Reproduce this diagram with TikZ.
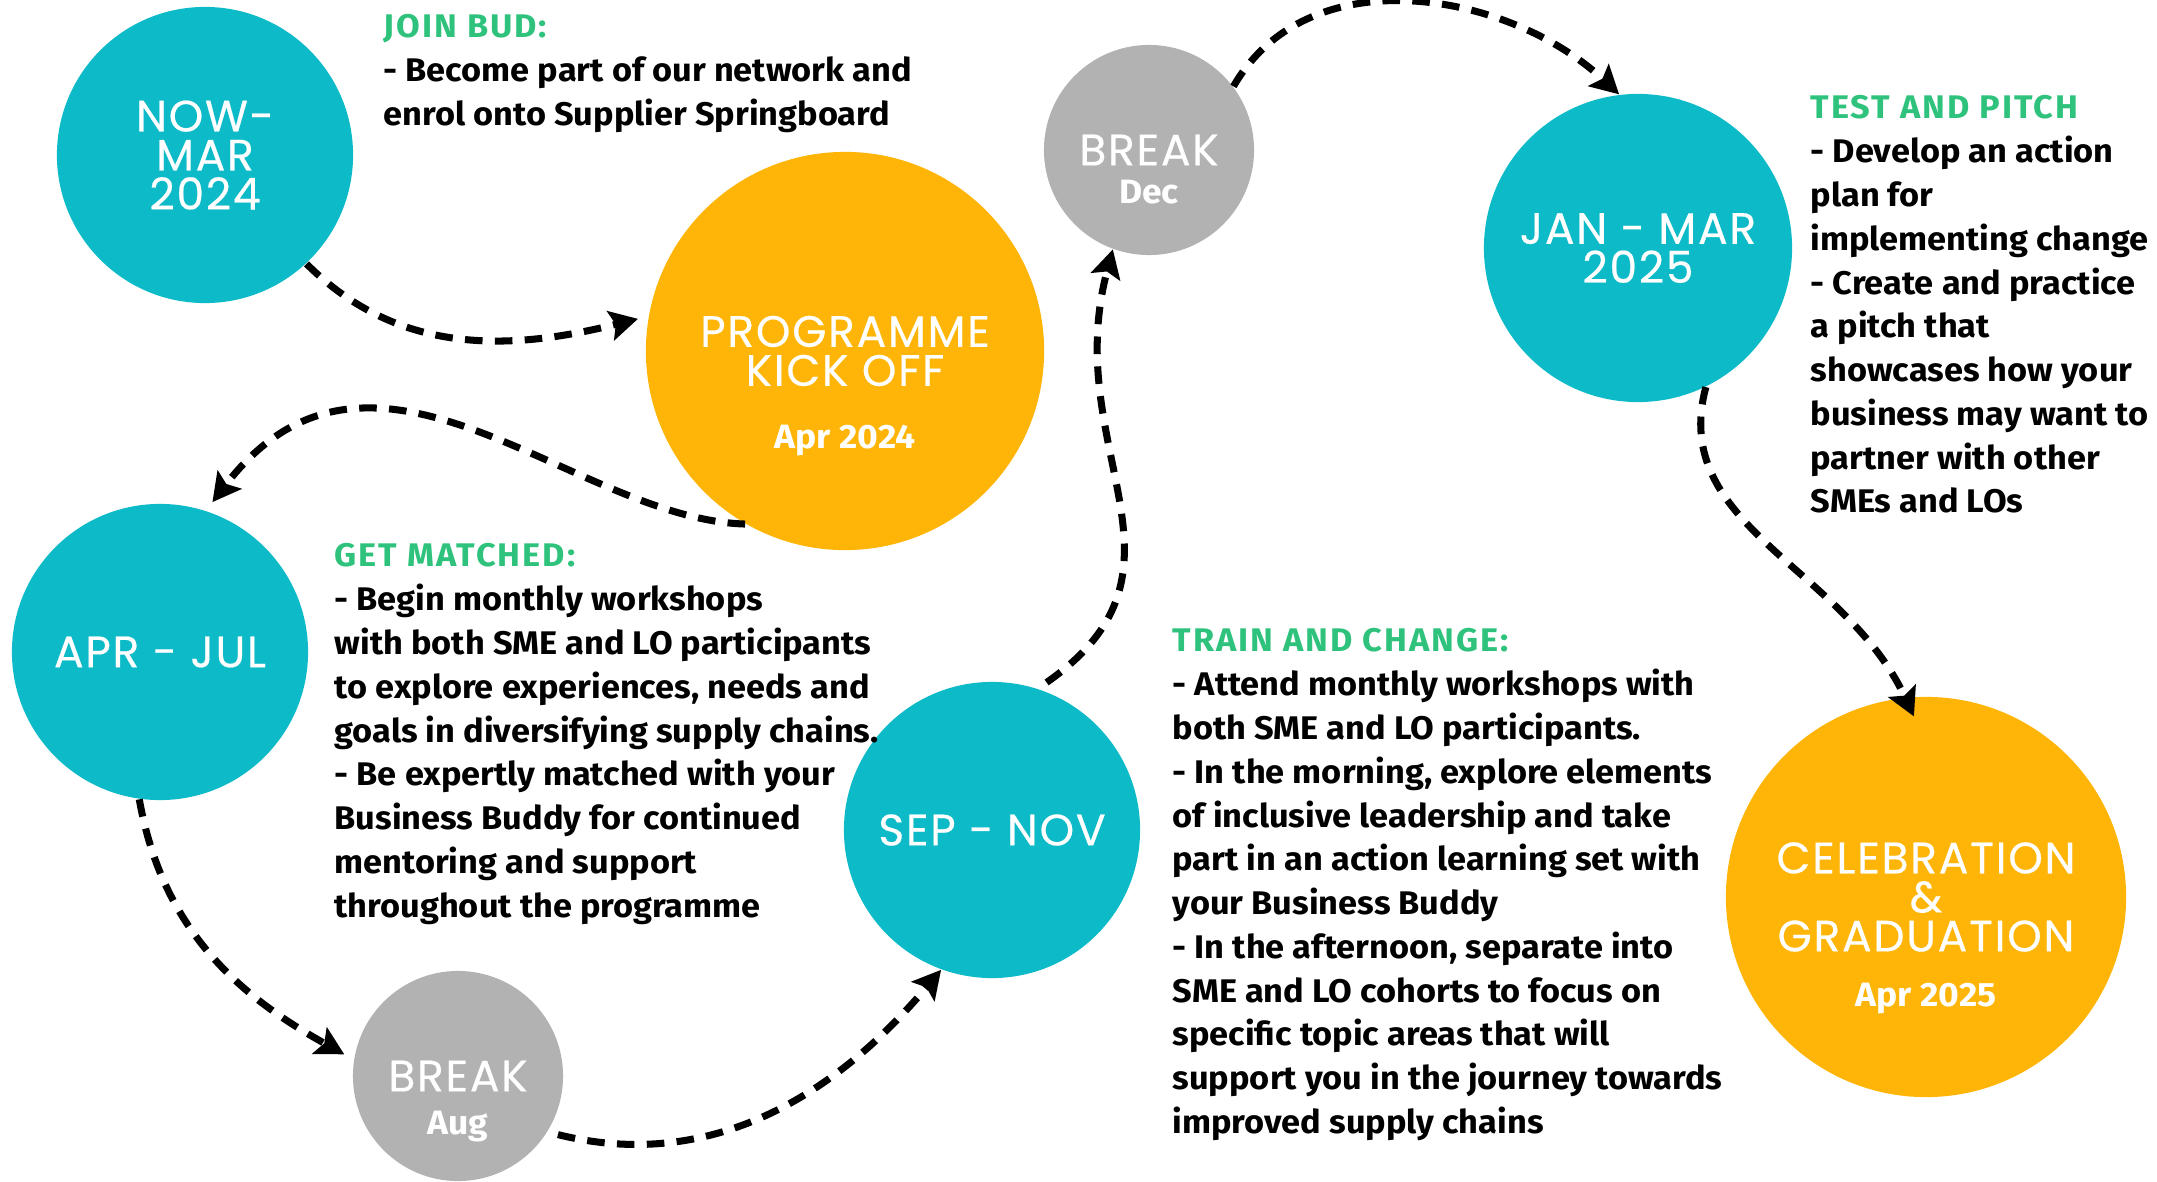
\documentclass[tikz,border=0pt]{standalone}
\usepackage{fontspec}
\setmainfont{Fira Sans}[FakeStretch=1.05]
\newfontfamily\capfont{Poppins}[LetterSpace=4, FakeBold=0.4]
\usetikzlibrary{arrows, arrows.meta, positioning}

\definecolor{budteal}{HTML}{0DBBC8}
\definecolor{budorange}{HTML}{FEB507}
\definecolor{budgrey}{HTML}{B2B2B2}
\definecolor{budgreen}{HTML}{2EC27C}

\newcommand{\head}[1]{{\addfontfeatures{LetterSpace=6}\color{budgreen}#1}}

\begin{document}
\begin{tikzpicture}[x=0.01cm, y=-0.01cm, >={Stealth[length=8pt, width=8.5pt, inset=1.5pt]}, shorten >=3pt]

        \tikzstyle{stage}=[circle, inner sep=0pt, text=white, align=center,
                font=\capfont\fontsize{12.5pt}{11.1pt}\selectfont]
        \tikzstyle{month}=[stage, fill=budteal, minimum size=2.96cm]
        \tikzstyle{event}=[stage, fill=budorange, minimum size=3.98cm]
        \tikzstyle{pause}=[stage, fill=budgrey, minimum size=2.1cm]
        \tikzstyle{when}=[anchor=base, inner sep=0pt, text=white,
                font=\bfseries\fontsize{9.6pt}{10pt}\selectfont]
        \tikzstyle{note}=[anchor=north west, inner sep=0pt, align=left,
                font=\bfseries\fontsize{9.3pt}{12.45pt}\selectfont]
        \tikzstyle{flow}=[line width=2pt, dash pattern=on 5pt off 3.5pt]

        \useasboundingbox (0,0) rectangle (2157,1182);

        % stages of the programme
        \node[month]   (s_1) at (205,155)  {NOW-\\MAR\\2024};
        \node[event]   (s_2) at (845,351)  {PROGRAMME\\KICK OFF};
        \node[month]   (s_3) at (160,652)  {APR - JUL};
        \node[pause]   (s_4) at (458,1076) {BREAK};
        \node[month]   (s_5) at (992,830)  {SEP - NOV};
        \node[pause]   (s_6) at (1149,150) {BREAK};
        \node[month, minimum size=3.08cm] (s_7) at (1638,248) {JAN - MAR\\2025};
        \node[event, minimum size=4cm]    (s_8) at (1926,897) {CELEBRATION\\\&\\GRADUATION};

        \node[when] (w_2) at (845,448)  {Apr 2024};
        \node[when] (w_4) at (458,1134) {Aug};
        \node[when] (w_6) at (1149,204) {Dec};
        \node[when] (w_8) at (1926,1006) {Apr 2025};

        % what happens at each step
        \node[note] (n_1) at (383,14) {\head{JOIN BUD:}\\
                - Become part of our network and\\
                enrol onto Supplier Springboard};
        \node[note] (n_3) at (334,543) {\head{GET MATCHED:}\\
                - Begin monthly workshops\\
                with both SME and LO participants\\
                to explore experiences, needs and\\
                goals in diversifying supply chains.\\
                - Be expertly matched with your\\
                Business Buddy for continued\\
                mentoring and support\\
                throughout the programme};
        \node[note] (n_5) at (1172,628) {\head{TRAIN AND CHANGE:}\\
                - Attend monthly workshops with\\
                both SME and LO participants.\\
                - In the morning, explore elements\\
                of inclusive leadership and take\\
                part in an action learning set with\\
                your Business Buddy\\
                - In the afternoon, separate into\\
                SME and LO cohorts to focus on\\
                specific topic areas that will\\
                support you in the journey towards\\
                improved supply chains};
        \node[note] (n_7) at (1810,95) {\head{TEST AND PITCH}\\
                - Develop an action\\
                plan for\\
                implementing change\\
                - Create and practice\\
                a pitch that\\
                showcases how your\\
                business may want to\\
                partner with other\\
                SMEs and LOs};

        \path[->, flow]
        (s_1.-47) edge [out=-45, in=194] (s_2.170)
        (s_3.262) edge [out=-80, in=151] (s_4.171)
        (s_4.-32) edge [out=-14, in=230, shorten <=3pt, shorten >=0pt] (s_5.250)
        (s_5.72)  edge [out=35, in=-105, looseness=1.2, shorten <=3pt, shorten >=0pt] (s_6.250)
        (s_6.37)  edge [out=60, in=137, shorten >=0pt] (s_7.97)
        (s_7.-64) edge [out=-105, in=115, shorten >=-6pt] (s_8.96);

        \draw[->, flow] (s_2.240) .. controls (573,519) and (373,293) .. (s_3.72);

\end{tikzpicture}
\end{document}
